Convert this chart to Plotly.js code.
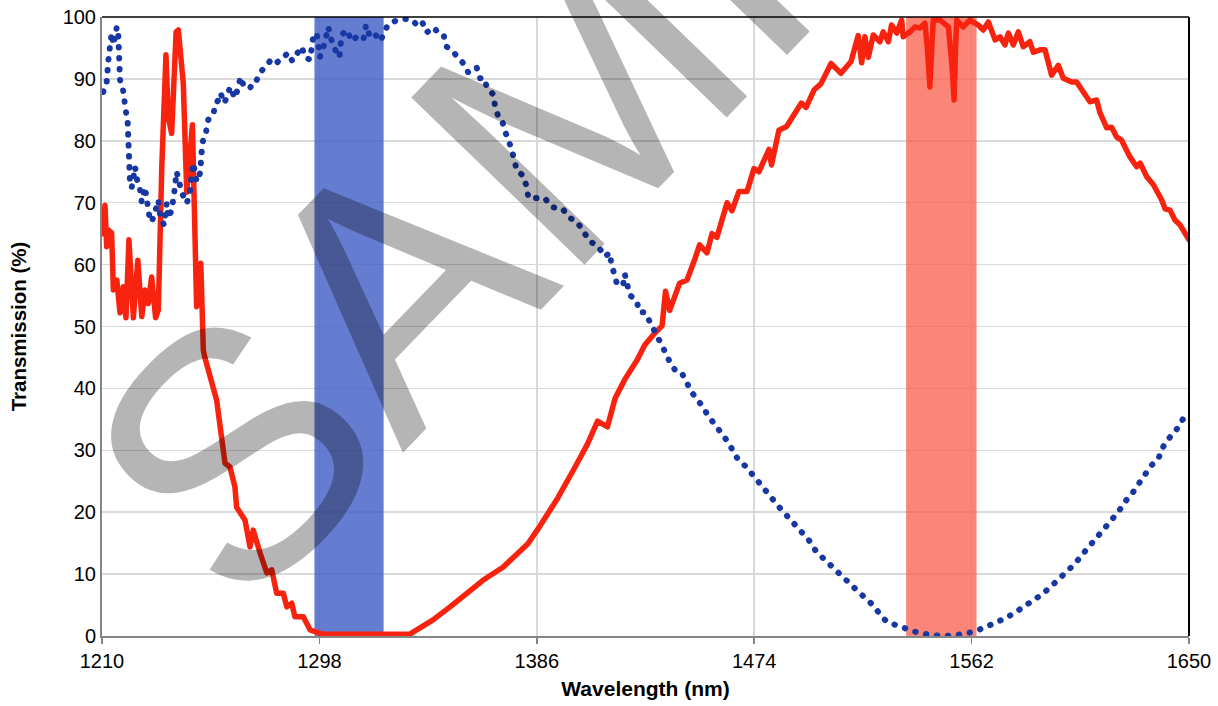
<!DOCTYPE html>
<html>
<head>
<meta charset="utf-8">
<script src="https://cdn.plot.ly/plotly-3.0.1.min.js"></script>
<style>
  html, body { margin: 0; padding: 0; background: #fff; }
  #chart { width: 1218px; height: 706px; }
  .scatterlayer .trace path.js-line { stroke-linecap: round; stroke-linejoin: round; }
</style>
</head>
<body>
<div id="chart"></div>
<script>
// ---- data ----
const tickValues = [1210, 1298, 1386, 1474, 1562, 1650];
const tickLabels = ["1210", "1298", "1386", "1474", "1562", "1650"];
const yTickValues = [0, 10, 20, 30, 40, 50, 60, 70, 80, 90, 100];

// shaded wavelength bands (nm)
const blueBand = [1296, 1324];
const redBand = [1535.5, 1564];

// transmission (red, solid)
const redX = [1210.5,1211.2,1211.9,1212.6,1213.9,1214.6,1216.0,1217.3,1218.6,1219.7,1220.9,1222.7,1224.5,1226.1,1227.4,1228.7,1230.1,1231.7,1232.8,1234.2,1235.9,1236.8,1238.2,1240.0,1240.9,1242.9,1244.3,1246.6,1248.3,1250.0,1251.0,1251.7,1256.4,1258.5,1259.8,1261.8,1263.8,1264.5,1267.9,1269.9,1271.2,1274.0,1276.7,1278.7,1280.7,1283.4,1284.8,1286.8,1288.1,1291.5,1294.2,1296.9,1299.6,1310.0,1320.0,1334.7,1337.4,1344.0,1350.9,1357.6,1364.2,1372.3,1382.4,1386.5,1394.5,1401.5,1406.5,1410.6,1414.6,1417.7,1421.7,1426.6,1429.7,1433.7,1436.7,1438.1,1439.8,1443.8,1446.8,1449.8,1451.9,1454.9,1456.9,1458.9,1463.0,1465.0,1467.8,1471.1,1473.9,1475.9,1480.0,1481.0,1484.0,1487.1,1490.1,1493.1,1495.0,1498.2,1501.0,1505.1,1509.1,1513.2,1516.1,1517.5,1518.8,1520.2,1522.2,1524.9,1526.2,1528.3,1529.6,1531.7,1533.7,1534.3,1537.1,1539.1,1541.1,1543.1,1544.1,1545.1,1546.0,1546.5,1549.2,1552.6,1554.1,1554.9,1555.5,1556.0,1558.6,1561.3,1564.7,1566.7,1568.8,1571.5,1573.5,1575.5,1576.9,1578.9,1580.9,1582.9,1585.6,1587.0,1589.7,1591.7,1594.4,1597.1,1599.1,1602.5,1604.5,1607.2,1609.9,1612.6,1614.0,1616.7,1618.7,1620.7,1622.7,1626.1,1628.8,1630.2,1632.9,1635.6,1636.9,1639.0,1640.3,1642.3,1644.3,1646.4,1650.0];
const redY = [65.0,69.6,62.9,65.6,65.1,55.9,57.5,52.2,56.4,51.4,64.0,51.4,60.7,51.6,55.9,53.7,58.0,51.4,52.7,75.8,93.9,83.9,81.2,97.6,97.9,89.3,71.7,82.6,53.2,60.2,46.2,44.9,38.1,31.7,27.9,27.3,24.1,20.8,18.7,14.4,17.1,13.4,10.2,10.7,6.9,6.9,4.7,5.3,3.1,3.1,1.0,0.6,0.3,0.3,0.3,0.3,1.0,2.6,4.7,6.9,9.0,11.1,14.9,17.3,22.3,27.3,31.0,34.7,33.8,38.4,41.5,44.6,47.0,48.9,50.1,55.7,52.6,57.0,57.5,60.7,63.2,61.9,65.0,64.4,70.0,68.7,71.8,71.8,75.5,75.0,78.6,76.1,81.7,82.3,84.2,86.1,85.4,88.2,89.2,92.5,90.9,92.8,97.0,92.6,96.8,93.5,97.1,96.0,97.6,96.0,98.7,97.4,99.5,96.8,97.6,98.4,98.2,99.0,95.0,88.7,96.0,99.5,99.5,98.4,92.0,86.6,95.0,99.5,98.4,99.5,98.7,97.9,99.2,96.3,96.8,95.5,97.4,95.5,97.6,95.2,96.0,94.3,94.7,94.7,90.6,92.2,90.1,89.5,89.5,87.9,86.3,86.6,84.5,82.1,82.2,80.6,80.1,77.4,75.8,76.4,74.2,72.9,72.1,70.4,69.0,68.8,67.2,66.4,64.0];

// reflection (blue, dotted)
const blueX = [1210.5,1211.9,1212.6,1213.2,1213.9,1214.6,1216.0,1216.6,1217.0,1217.3,1218.4,1219.3,1219.7,1220.4,1220.6,1221.3,1222.0,1223.4,1224.0,1225.4,1226.1,1227.4,1229.4,1230.1,1231.5,1232.8,1233.5,1235.1,1236.2,1236.8,1238.2,1238.9,1239.5,1240.2,1242.3,1244.3,1245.6,1246.3,1247.0,1248.3,1249.7,1250.4,1251.0,1252.1,1253.0,1255.1,1255.7,1257.1,1258.0,1259.4,1260.7,1261.8,1263.8,1265.2,1266.1,1267.5,1269.9,1271.5,1272.6,1274.2,1276.7,1278.7,1280.7,1282.7,1285.4,1287.0,1288.8,1290.8,1292.2,1294.2,1295.5,1296.9,1297.6,1298.2,1300.3,1301.6,1302.6,1304.0,1306.1,1307.0,1309.1,1311.1,1313.1,1315.8,1316.9,1318.2,1319.8,1322.5,1323.9,1325.6,1328.9,1332.4,1335.6,1338.0,1339.7,1341.4,1344.4,1346.8,1348.4,1349.5,1351.6,1352.5,1353.6,1355.2,1356.5,1358.3,1359.6,1361.7,1363.0,1364.6,1366.0,1368.4,1369.1,1370.4,1371.8,1373.0,1374.3,1375.7,1376.9,1377.9,1380.4,1381.9,1382.6,1384.2,1386.0,1388.4,1389.3,1392.0,1396.4,1399.5,1402.1,1404.5,1407.5,1410.6,1413.6,1415.6,1416.2,1417.6,1418.6,1421.0,1421.6,1423.6,1426.3,1427.7,1429.7,1431.7,1434.3,1435.7,1437.7,1439.8,1442.4,1444.8,1446.8,1448.8,1451.3,1453.8,1455.9,1458.9,1461.9,1464.9,1467.0,1471.0,1474.0,1477.0,1481.0,1485.0,1489.1,1493.1,1496.1,1499.2,1502.2,1506.2,1509.2,1512.2,1516.3,1521.0,1524.0,1527.4,1531.7,1536.1,1540.6,1545.2,1549.6,1554.4,1558.9,1561.8,1566.3,1570.5,1574.7,1578.9,1582.9,1586.7,1590.4,1593.9,1597.3,1600.6,1603.9,1606.7,1609.6,1612.8,1615.6,1618.4,1621.5,1624.1,1626.8,1629.5,1631.9,1634.6,1637.6,1639.1,1641.6,1644.7,1647.0,1649.4];
const blueY = [87.9,89.5,93.1,95.2,97.4,95.5,98.4,97.1,93.4,89.8,88.5,86.6,84.7,82.9,78.3,73.7,72.4,75.8,74.0,72.1,70.1,72.5,67.2,66.9,68.5,70.4,68.0,66.4,69.9,67.5,68.8,70.4,72.4,75.0,71.6,69.9,71.6,74.8,76.4,73.4,74.8,78.5,80.4,81.4,83.4,84.2,85.8,86.6,87.7,86.1,87.1,88.7,86.9,88.7,90.3,88.7,88.5,89.8,89.8,91.1,92.1,93.2,92.6,93.2,94.2,92.9,93.9,95.2,93.5,93.1,96.8,97.4,95.5,93.5,96.0,98.4,96.6,95.0,93.5,97.1,97.9,96.1,96.8,96.3,98.7,97.1,97.6,96.1,97.1,98.7,99.4,99.7,99.5,98.5,99.1,97.5,98.3,97.0,96.9,95.2,94.6,94.2,93.9,93.3,92.4,91.0,91.2,91.8,90.1,90.2,88.4,87.5,85.6,83.9,83.5,81.7,80.5,78.8,76.9,75.2,74.4,72.6,70.8,70.8,70.8,70.9,70.7,69.3,69.0,67.5,67.0,65.6,63.7,63.1,61.3,61.9,60.0,58.2,56.6,56.9,58.5,55.1,54.2,52.3,52.3,50.8,48.9,47.7,46.1,44.3,42.7,42.4,40.9,39.3,38.1,36.5,35.3,33.7,32.2,30.3,28.8,27.2,25.7,24.1,22.3,20.4,18.6,16.7,15.5,13.6,12.4,11.1,9.9,8.4,7.1,5.4,3.9,2.4,1.7,1.0,0.5,0.2,0.0,0.05,0.4,0.6,1.2,1.9,2.7,3.6,4.6,5.6,6.7,7.9,9.1,10.3,11.7,13.1,14.5,15.8,17.3,18.7,20.1,21.7,22.9,24.5,25.9,27.5,28.6,30.3,31.8,33.2,34.7,36.1];

// ---- traces ----
const traces = [
  {
    x: redX, y: redY, type: 'scatter', mode: 'lines',
    line: { color: '#f8230f', width: 5.5 },
    hoverinfo: 'skip', showlegend: false
  },
  {
    x: blueX, y: blueY, type: 'scatter', mode: 'lines',
    line: { color: '#1737a3', width: 6, dash: '0.5px,10.5px' },
    hoverinfo: 'skip', showlegend: false
  }
];

const fontFam = 'Arial, "Liberation Sans", sans-serif';

const layout = {
  width: 1218, height: 706,
  margin: { l: 102, r: 29, t: 17, b: 70, autoexpand: false },
  paper_bgcolor: '#ffffff', plot_bgcolor: '#ffffff',
  showlegend: false,
  font: { family: fontFam, color: '#000000', size: 20 },
  xaxis: {
    range: [tickValues[0], tickValues[tickValues.length - 1]],
    tickmode: 'array', tickvals: tickValues, ticktext: tickLabels,
    showgrid: true, gridcolor: '#d9d9d9', gridwidth: 1.5,
    zeroline: false,
    showline: true, linecolor: '#858585', linewidth: 2,
    ticks: 'outside', ticklen: 6, tickwidth: 1.5, tickcolor: '#858585',
    tickfont: { family: fontFam, size: 20, color: '#000' },
    title: { text: '<b>Wavelength (nm)</b>', font: { family: fontFam, size: 21, color: '#000' }, standoff: 10 }
  },
  yaxis: {
    range: [0, 100],
    tickmode: 'array', tickvals: yTickValues,
    showgrid: true, gridcolor: '#d9d9d9', gridwidth: 1.5,
    zeroline: false,
    showline: true, linecolor: '#858585', linewidth: 2,
    ticks: '', ticklen: 0,
    tickfont: { family: fontFam, size: 20, color: '#000' },
    title: { text: '<b>Transmission (%)</b>', font: { family: fontFam, size: 20.5, color: '#000' }, standoff: 30 }
  },
  shapes: [
    { type: 'rect', xref: 'x', yref: 'y', x0: blueBand[0], x1: blueBand[1], y0: 0, y1: 100,
      fillcolor: 'rgba(62,92,198,0.8)', line: { width: 0 }, layer: 'between' },
    { type: 'rect', xref: 'x', yref: 'y', x0: redBand[0], x1: redBand[1], y0: 0, y1: 100,
      fillcolor: 'rgba(250,92,72,0.75)', line: { width: 0 }, layer: 'between' },
    { type: 'line', xref: 'paper', yref: 'paper', x0: 0, x1: 1, y0: 1, y1: 1,
      line: { color: '#000', width: 1.5 }, layer: 'above' },
    { type: 'line', xref: 'paper', yref: 'paper', x0: 1, x1: 1, y0: 0, y1: 1,
      line: { color: '#000', width: 2 }, layer: 'above' }
  ],
  annotations: [
    { text: 'SAMPLE', xref: 'paper', yref: 'paper', x: 0.50, y: 0.985,
      xanchor: 'center', yanchor: 'middle', showarrow: false, textangle: -46,
      font: { family: fontFam, size: 350, color: 'rgba(0,0,0,0.29)' } }
  ]
};

Plotly.newPlot('chart', traces, layout, { staticPlot: true, displayModeBar: false });
</script>
</body>
</html>
